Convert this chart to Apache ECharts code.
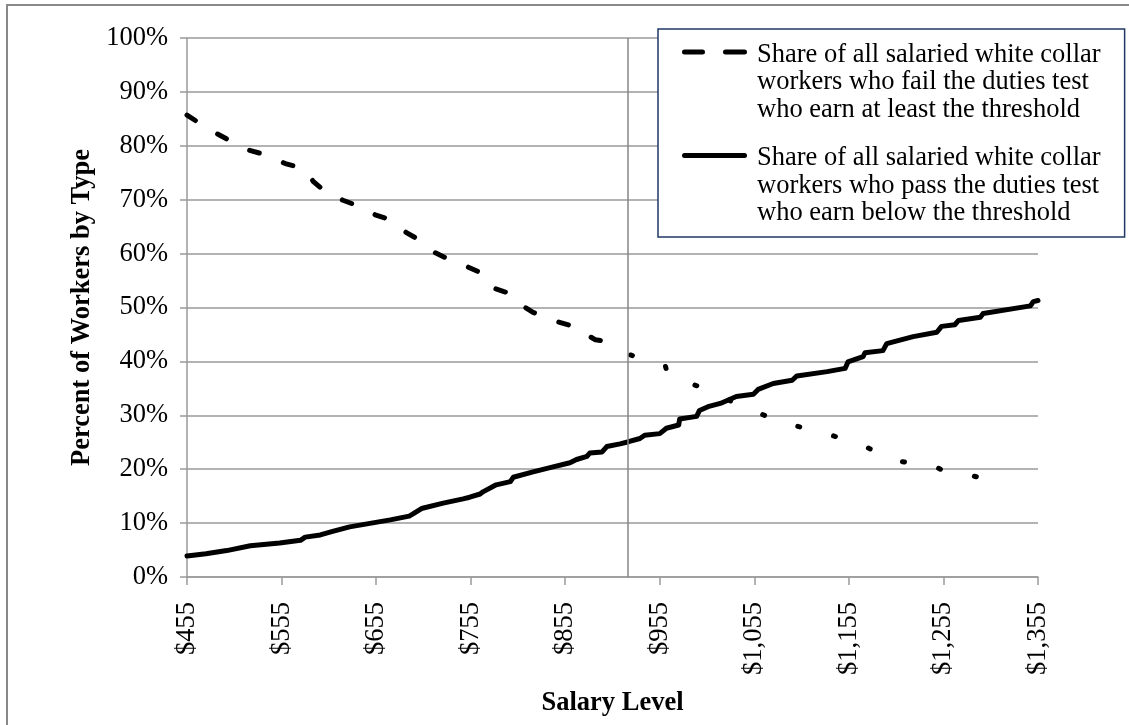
<!DOCTYPE html>
<html>
<head>
<meta charset="utf-8">
<script src="https://cdn.jsdelivr.net/npm/echarts@6/dist/echarts.min.js"></script>
<style>
html,body{margin:0;padding:0;background:#fff;}
#chart{width:1129px;height:725px;}
</style>
</head>
<body>
<div id="chart"></div>
<script>
// ---- data ----
const xTickLabels = ['$455','$555','$655','$755','$855','$955','$1,055','$1,155','$1,255','$1,355'];
const yTickLabels = ['0%','10%','20%','30%','40%','50%','60%','70%','80%','90%','100%'];
const salaryMin = 455;
const salaryMax = 1355;
const thresholdSalary = 921;

const failName = 'Share of all salaried white collar\nworkers who fail the duties test\nwho earn at least the threshold';
const passName = 'Share of all salaried white collar\nworkers who pass the duties test\nwho earn below the threshold';

const failSalary = [455,470,486,502,520,539,559,578,589,603,620,638,654,668,687,698,717,730,751,765,779,793,810,821,846,862,887,896,924,931,961,963,989,997,1056,1093,1133,1170,1203,1245,1255,1264,1304,1313];
const failShare  = [85.7,84.0,82.3,80.8,79.2,78.3,76.7,75.8,73.3,71.2,69.9,68.7,67.2,66.4,63.9,62.8,60.2,59.1,57.6,56.5,53.6,52.8,50.3,49.1,47.4,46.6,44.0,43.8,41.2,40.8,39.1,37.8,35.8,35.3,30.6,28.3,26.5,24.4,21.6,20.6,19.7,19.7,18.0,17.6];
const failDottedFrom = 896; // beyond this salary the dashes shrink to dots

const passSalary = [455,475,497,522,553,575,580,596,610,627,650,670,690,694,703,726,747,754,765,768,782,797,800,821,839,860,867,878,881,894,899,913,922,934,939,955,962,975,976,994,997,1006,1019,1036,1054,1059,1075,1095,1100,1132,1151,1154,1170,1172,1191,1195,1223,1248,1253,1267,1271,1294,1297,1347,1350,1355];
const passShare  = [3.9,4.3,4.9,5.8,6.3,6.8,7.4,7.8,8.5,9.3,10.0,10.6,11.3,11.7,12.7,13.7,14.5,14.8,15.4,15.8,17.1,17.7,18.5,19.5,20.3,21.2,21.8,22.4,23.0,23.2,24.2,24.7,25.1,25.7,26.3,26.6,27.6,28.2,29.3,29.8,30.9,31.6,32.2,33.5,33.9,34.8,35.9,36.5,37.3,38.1,38.7,39.9,40.9,41.6,42.0,43.3,44.6,45.4,46.5,46.8,47.6,48.2,48.9,50.3,51.1,51.3];

// ---- build ----
const FONT = 'Liberation Serif';
const FS = 26.5;
const toPts = (xs, ys) => xs.map((s, i) => [s - salaryMin, ys[i]]);
const failAll = toPts(failSalary, failShare);
const splitIdx = failSalary.indexOf(failDottedFrom);
const failDashed = failAll.slice(0, splitIdx + 1);
const failDotted = failAll.slice(splitIdx);
const passPts = toPts(passSalary, passShare);

const dashIcon = 'path://M2.5 8.5 H20.5 A2.5 2.5 0 0 1 20.5 13.5 H2.5 A2.5 2.5 0 0 1 2.5 8.5 Z M43.5 8.5 H62.5 A2.5 2.5 0 0 1 62.5 13.5 H43.5 A2.5 2.5 0 0 1 43.5 8.5 Z M0 0 M70 82.5';
const solidIcon = 'path://M2.5 8.5 H62.5 A2.5 2.5 0 0 1 62.5 13.5 H2.5 A2.5 2.5 0 0 1 2.5 8.5 Z M0 0 M70 82.5';

const gridColor = '#9a9a9a';
const chart = echarts.init(document.getElementById('chart'), null, {renderer: 'canvas'});
chart.setOption({
  animation: false,
  backgroundColor: '#fff',
  textStyle: {fontFamily: FONT},
  graphic: [{
    type: 'rect', silent: true, z: -1,
    shape: {x: 7, y: 5, width: 1200, height: 800},
    style: {fill: 'none', stroke: '#898989', lineWidth: 2}
  }],
  grid: {left: 187, right: 91, top: 38, bottom: 148, containLabel: false, outerBoundsMode: 'none'},
  legend: {
    orient: 'vertical',
    left: 658, top: 29,
    padding: [12, 24, 10, 24],
    itemGap: 21,
    itemWidth: 70,
    itemHeight: 82.5,
    selectedMode: false,
    backgroundColor: '#fff',
    borderColor: '#1F3864',
    borderWidth: 1.5,
    itemStyle: {borderWidth: 0, color: '#000'},
    textStyle: {fontFamily: FONT, fontSize: FS, lineHeight: 27.5, color: '#000'},
    data: [{name: failName, icon: dashIcon}, {name: passName, icon: solidIcon}]
  },
  xAxis: {
    type: 'value',
    min: 0, max: salaryMax - salaryMin, interval: 100,
    name: 'Salary Level',
    nameLocation: 'middle',
    nameGap: 113,
    nameTextStyle: {fontFamily: FONT, fontSize: FS, fontWeight: 'bold', color: '#000'},
    axisLine: {show: true, lineStyle: {color: gridColor, width: 1.5}},
    axisTick: {show: true, length: 8, lineStyle: {color: gridColor, width: 1.5}},
    splitLine: {show: false},
    axisLabel: {
      rotate: 90, margin: 25,
      fontFamily: FONT, fontSize: FS, color: '#000',
      formatter: v => xTickLabels[Math.round(v / 100)]
    }
  },
  yAxis: {
    type: 'value',
    min: 0, max: 100, interval: 10,
    name: 'Percent of Workers by Type',
    nameLocation: 'middle',
    nameGap: 91,
    nameTextStyle: {fontFamily: FONT, fontSize: FS, fontWeight: 'bold', color: '#000'},
    axisLine: {show: true, lineStyle: {color: gridColor, width: 1.5}},
    axisTick: {show: true, length: 7, lineStyle: {color: gridColor, width: 1.5}},
    splitLine: {show: true, lineStyle: {color: gridColor, width: 1.5}},
    axisLabel: {
      margin: 19,
      fontFamily: FONT, fontSize: FS, color: '#000',
      formatter: v => yTickLabels[Math.round(v / 10)]
    }
  },
  series: [
    {
      name: failName, type: 'line', data: failDashed,
      symbol: 'none', z: 3,
      lineStyle: {color: '#000', width: 5, type: [10, 26], cap: 'round', join: 'round'}
    },
    {
      name: failName, type: 'line', data: failDotted,
      symbol: 'none', z: 3,
      lineStyle: {color: '#000', width: 5, type: [2, 35], dashOffset: 7, cap: 'round', join: 'round'}
    },
    {
      name: passName, type: 'line', data: passPts,
      symbol: 'none', z: 4,
      lineStyle: {color: '#000', width: 5, cap: 'round', join: 'round'},
      markLine: {
        silent: true, symbol: ['none', 'none'],
        label: {show: false},
        lineStyle: {color: '#868686', width: 1.5, type: 'solid'},
        data: [{xAxis: thresholdSalary - salaryMin}]
      }
    }
  ]
});
</script>
</body>
</html>
